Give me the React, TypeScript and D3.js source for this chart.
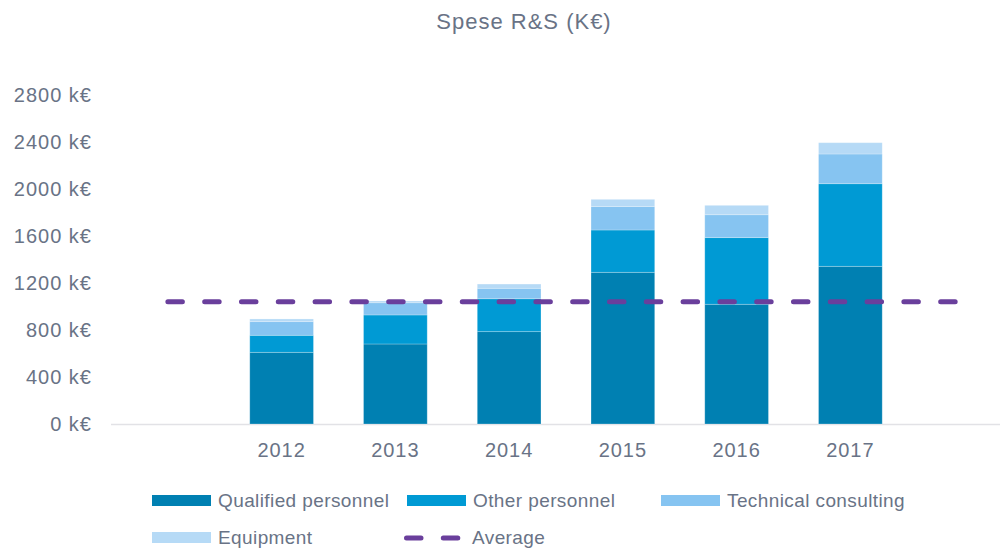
import React from "react";
import * as d3 from "d3";

const years = ["2012", "2013", "2014", "2015", "2016", "2017"];
const qualified = [610, 681, 786, 1291, 1019, 1342];
const otherPersonnel = [145, 247, 280, 360, 567, 703];
const technical = [116, 104, 89, 199, 195, 253];
const equipment = [23, 15, 36, 62, 80, 96];
const averageValue = 1041;
const yTicks = [0, 400, 800, 1200, 1600, 2000, 2400, 2800];

const seriesNames = ["Qualified personnel", "Other personnel", "Technical consulting", "Equipment"];
const seriesColors = ["#0080B2", "#009AD4", "#86C4F1", "#B6DAF6"];
const avgColor = "#6A3F9C";
const textColor = "#697386";
const font = "'Liberation Sans', Arial, sans-serif";

export default function App() {
  const W = 1000, H = 548;
  const domain = ["__start", ...years, "__end"];
  const x = d3.scaleBand<string>().domain(domain).range([111, 1021]).paddingInner(0.44).paddingOuter(0.22);
  const y = d3.scaleLinear().domain([0, 2800]).range([424, 95]);

  const rows = years.map((yr, i) => ({
    year: yr,
    q: qualified[i],
    o: otherPersonnel[i],
    t: technical[i],
    e: equipment[i],
  }));
  const stack = d3.stack<any>().keys(["q", "o", "t", "e"]);
  const stacked = stack(rows);

  const centerOf = (k: string) => (x(k) as number) + x.bandwidth() / 2;
  const avgLine = d3.line<[number, number]>().x(d => d[0]).y(d => d[1]);
  const avgPts: [number, number][] = [
    [centerOf("__start"), y(averageValue)],
    [centerOf("__end"), y(averageValue)],
  ];

  const dash = "14.5 22.3";

  const legendRow1 = [
    { name: seriesNames[0], color: seriesColors[0], x: 152 },
    { name: seriesNames[1], color: seriesColors[1], x: 407 },
    { name: seriesNames[2], color: seriesColors[2], x: 661 },
  ];

  return (
    <svg width={W} height={H} style={{ position: "absolute", left: 0, top: 0 }} fontFamily={font}>
      <rect width={W} height={H} fill="#ffffff" />
      <text x={524} y={29} textAnchor="middle" fontSize={22} letterSpacing={1} fill={textColor}>
        Spese R&amp;S (K€)
      </text>
      {yTicks.map(t => (
        <text key={t} x={92} y={y(t)} dy="0.35em" textAnchor="end" fontSize={20} letterSpacing={1} fill={textColor}>
          {t} k€
        </text>
      ))}
      <line x1={111} x2={1000} y1={424.5} y2={424.5} stroke="#E2E2E6" strokeWidth={1.5} />
      {stacked.map((s, si) => (
        <g key={si} fill={seriesColors[si]}>
          {s.map((d: any, i: number) => (
            <rect
              key={i}
              x={x(years[i])}
              width={x.bandwidth()}
              y={y(d[1])}
              height={y(d[0]) - y(d[1])}
              stroke="#ffffff"
              strokeOpacity={0.3}
              strokeWidth={0.8}
            />
          ))}
        </g>
      ))}
      {years.map(yr => (
        <text key={yr} x={centerOf(yr)} y={450} dy="0.35em" textAnchor="middle" fontSize={20} letterSpacing={1} fill={textColor}>
          {yr}
        </text>
      ))}
      <path
        d={avgLine(avgPts) as string}
        stroke={avgColor}
        strokeWidth={5}
        strokeDasharray={dash}
        strokeLinecap="round"
        fill="none"
      />
      {legendRow1.map(l => (
        <g key={l.name}>
          <rect x={l.x} y={495} width={59} height={11} fill={l.color} />
          <text x={l.x + 66} y={500.5} dy="0.35em" fontSize={19} letterSpacing={0.4} fill={textColor}>
            {l.name}
          </text>
        </g>
      ))}
      <rect x={152} y={532} width={59} height={11} fill={seriesColors[3]} />
      <text x={218} y={537.5} dy="0.35em" fontSize={19} letterSpacing={0.4} fill={textColor}>
        {seriesNames[3]}
      </text>
      <line
        x1={406.5}
        x2={460}
        y1={538}
        y2={538}
        stroke={avgColor}
        strokeWidth={5}
        strokeDasharray={dash}
        strokeLinecap="round"
      />
      <text x={472} y={537.5} dy="0.35em" fontSize={19} letterSpacing={0.4} fill={textColor}>
        Average
      </text>
    </svg>
  );
}
